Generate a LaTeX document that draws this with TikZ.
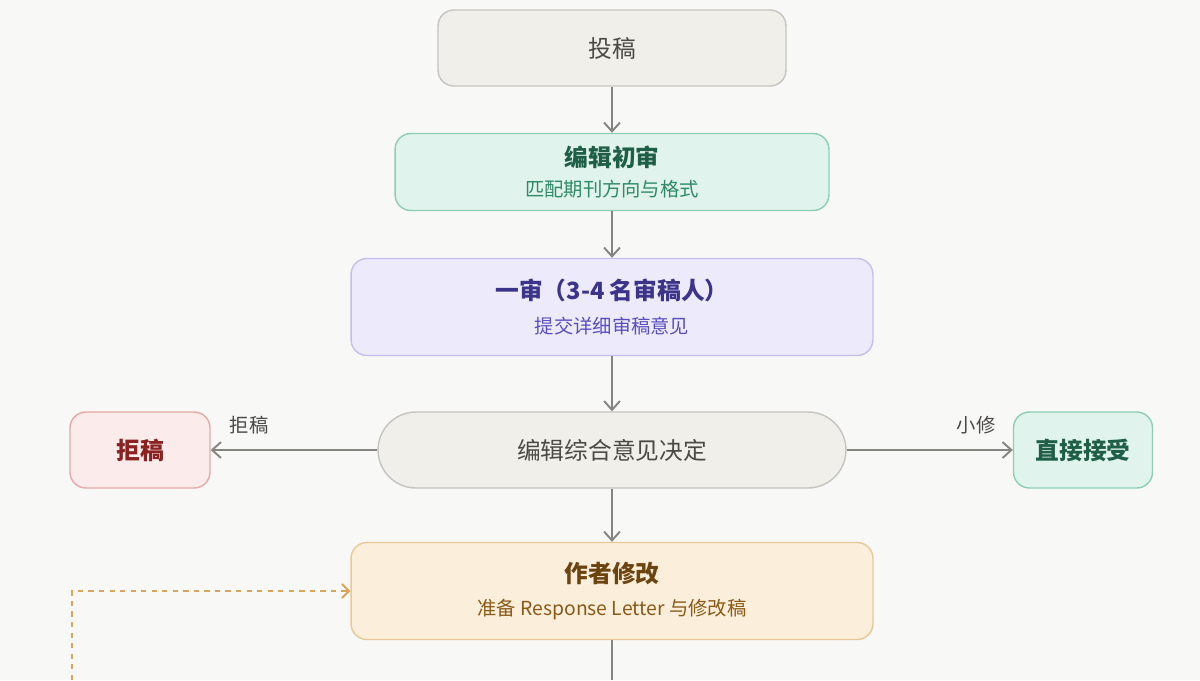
\documentclass[tikz,border=0pt]{standalone}
\usepackage{fontspec}
\setmainfont{Noto Sans CJK SC}
\usetikzlibrary{arrows.meta,positioning}
\definecolor{bgc}{HTML}{F8F8F7}
\definecolor{linec}{HTML}{858580}
\definecolor{graybg}{HTML}{F1EFEA}\definecolor{graybd}{HTML}{C6C4BE}\definecolor{graytx}{HTML}{4A4944}
\definecolor{grnbg}{HTML}{E0F3EC}\definecolor{grnbd}{HTML}{8CCFB5}\definecolor{grntx}{HTML}{1F5F48}\definecolor{grnsub}{HTML}{2F8A68}
\definecolor{purbg}{HTML}{EDEBFB}\definecolor{purbd}{HTML}{C5BFF0}\definecolor{purtx}{HTML}{3C3489}\definecolor{pursub}{HTML}{5A4FC0}
\definecolor{redbg}{HTML}{FCEBEB}\definecolor{redbd}{HTML}{E8A8A8}\definecolor{redtx}{HTML}{8A2222}
\definecolor{orgbg}{HTML}{FBEEDA}\definecolor{orgbd}{HTML}{E8C896}\definecolor{orgtx}{HTML}{6B4410}\definecolor{orgsub}{HTML}{8A5A18}\definecolor{orgdash}{HTML}{D9A55A}
\tikzset{
  box/.style={draw, rounded corners=9pt, line width=0.8pt, align=center, inner sep=0pt},
  flow/.style={draw=linec, line width=1.1pt, -{Straight Barb[length=5pt,width=9pt]}},
  lbl/.style={font=\fontsize{11pt}{13pt}\selectfont, text=graytx},
  big/.style={font=\fontsize{13.5pt}{16pt}\selectfont},
  bigb/.style={font=\fontsize{13.5pt}{16pt}\selectfont\bfseries}
}
\newcommand{\ttltx}[1]{{\fontsize{13.5pt}{16pt}\selectfont\bfseries #1}}
\newcommand{\subtx}[1]{{\fontsize{11pt}{14pt}\selectfont #1}}
\begin{document}
\begin{tikzpicture}[x=0.02cm, y=-0.02cm]
    \fill[bgc] (0,0) rectangle (1200,680);
    \useasboundingbox (0,0) rectangle (1200,680);

    % Main column
    \node[box, big, fill=graybg, draw=graybd, text=graytx, minimum width=6.96cm, minimum height=1.52cm] (submit) at (612,48) {投稿};
    \node[box, fill=grnbg, draw=grnbd, text=grntx, minimum width=8.68cm, minimum height=1.54cm] (desk) at (612,172)
        {\ttltx{编辑初审}\\[5pt]\textcolor{grnsub}{\subtx{匹配期刊方向与格式}}};
    \node[box, fill=purbg, draw=purbd, text=purtx, minimum width=10.44cm, minimum height=1.94cm] (review) at (612,307)
        {\ttltx{一审（3-4 名审稿人）}\\[7pt]\textcolor{pursub}{\subtx{提交详细审稿意见}}};
    \node[box, big, rounded corners=0.76cm, fill=graybg, draw=graybd, text=graytx, minimum width=9.36cm, minimum height=1.52cm] (decide) at (612,450) {编辑综合意见决定};
    \node[box, fill=orgbg, draw=orgbd, text=orgtx, minimum width=10.44cm, minimum height=1.94cm] (revise) at (612,591)
        {\ttltx{作者修改}\\[7pt]\textcolor{orgsub}{\subtx{准备 Response Letter 与修改稿}}};

    % Side outcomes
    \node[box, bigb, fill=redbg, draw=redbd, text=redtx, minimum width=2.8cm, minimum height=1.52cm] (reject) at (140,450) {拒稿};
    \node[box, bigb, fill=grnbg, draw=grnbd, text=grntx, minimum width=2.78cm, minimum height=1.52cm] (accept) at (1083,450) {直接接受};

    % Connectors
    \draw[flow] (submit) -- (desk);
    \draw[flow] (desk) -- (review);
    \draw[flow] (review) -- (decide);
    \draw[flow] (decide) -- (revise);
    \draw[flow] (decide) -- (reject);
    \draw[flow] (decide) -- (accept);
    \node[lbl] (rejlbl) at (249,425) {拒稿};
    \node[lbl] (minlbl) at (976,425) {小修};

    % Loop back and continuation
    \coordinate (loopin) at (72,680);
    \coordinate (down) at (612,680);
    \draw[draw=orgdash, line width=1.1pt, dashed, -{Straight Barb[length=4pt,width=8pt]}] (loopin) |- (revise.west);
    \draw[draw=linec, line width=1.1pt] (revise) -- (down);
\end{tikzpicture}
\end{document}
